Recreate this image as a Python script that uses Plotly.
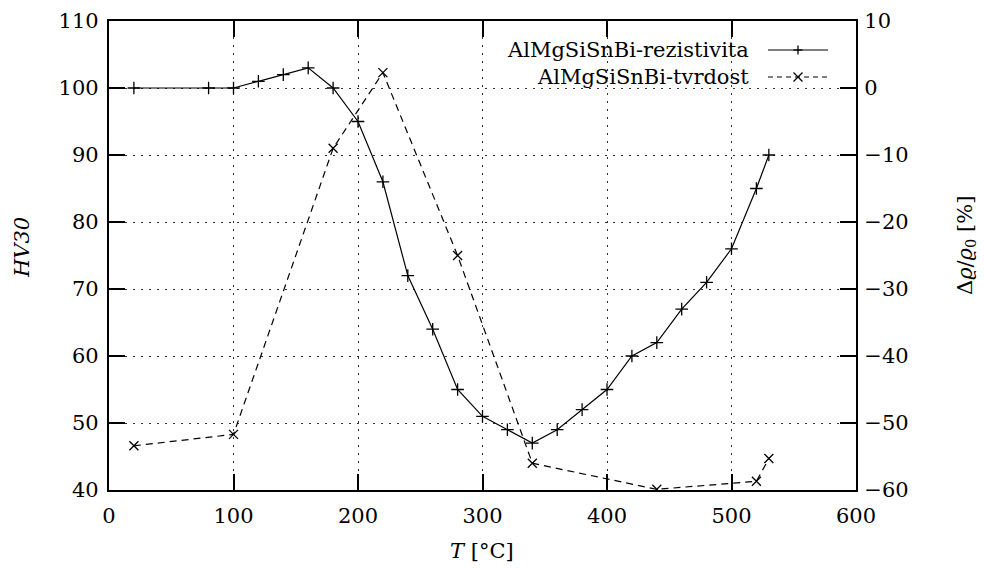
import plotly.graph_objects as go

# --- data ---
T_rez = [20, 80, 100, 120, 140, 160, 180, 200, 220, 240, 260, 280, 300,
         320, 340, 360, 380, 400, 420, 440, 460, 480, 500, 520, 530]
rezistivita = [0, 0, 0, 1, 2, 3, 0, -5, -14, -28, -36, -45, -49,
               -51, -53, -51, -48, -45, -40, -38, -33, -29, -24, -15, -10]

T_tvr = [20, 100, 180, 220, 280, 340, 440, 520, 530]
tvrdost = [46.6, 48.3, 91.0, 102.3, 75.0, 44.0, 40.1, 41.3, 44.7]

x_ticks = [0, 100, 200, 300, 400, 500, 600]
y_ticks = [40, 50, 60, 70, 80, 90, 100, 110]
y2_ticks = [-60, -50, -40, -30, -20, -10, 0, 10]

labels = ["AlMgSiSnBi-rezistivita", "AlMgSiSnBi-tvrdost"]
x_title = "<i>T</i> [°C]"
y_title = "<i>HV30</i>"
y2_title = "Δ<i>ϱ</i>/<i>ϱ</i><sub>0</sub> [%]"

FONT = "DejaVu Serif"
FS = 21
W, H = 984, 568
ML, MR, MT, MB = 109, 128, 21, 78

fig = go.Figure()
fig.add_trace(go.Scatter(
    x=T_rez, y=rezistivita, yaxis="y2", mode="lines+markers", name=labels[0],
    line=dict(color="black", width=1.2),
    marker=dict(symbol="cross-thin", size=9, line=dict(color="black", width=1.3)),
    showlegend=False))
fig.add_trace(go.Scatter(
    x=T_tvr, y=tvrdost, mode="lines+markers", name=labels[1],
    line=dict(color="black", width=1.2, dash="7px,5px"),
    marker=dict(symbol="x-thin", size=9, line=dict(color="black", width=1.3)),
    showlegend=False))

axis_common = dict(
    showline=True, linecolor="black", linewidth=2.2,
    ticks="inside", ticklen=16, tickwidth=2, tickcolor="black",
    zeroline=False, automargin=False,
)

fig.update_layout(
    width=W, height=H,
    margin=dict(l=ML, r=MR, t=MT, b=MB),
    plot_bgcolor="white", paper_bgcolor="white",
    font=dict(family=FONT, size=FS, color="black"),
    xaxis=dict(range=[0, 600], tickvals=x_ticks, mirror="ticks",
               showgrid=True, gridcolor="#333", griddash="2px,6px", gridwidth=1,
               tickfont=dict(family=FONT, size=FS, color="black"),
               ticklabelstandoff=6, **axis_common),
    yaxis=dict(range=[40, 110], tickvals=y_ticks,
               showgrid=True, gridcolor="#333", griddash="2px,6px", gridwidth=1,
               tickfont=dict(family=FONT, size=FS, color="black"),
               ticklabelstandoff=4, **axis_common),
    yaxis2=dict(range=[-60, 10], tickvals=y2_ticks, overlaying="y", side="right",
                tickfont=dict(family=FONT, size=FS, color="black"),
                showgrid=False, ticklabelstandoff=2, **axis_common),
)

pw, ph = W - ML - MR, H - MT - MB


def px(xp):
    return (xp - ML) / pw


def py(yp):
    return (H - MB - yp) / ph


# axis titles as annotations (placed like the reference)
fig.add_annotation(x=px(482), y=py(551), xref="paper", yref="paper", text=x_title,
                   showarrow=False, xanchor="center", yanchor="middle",
                   font=dict(family=FONT, size=FS, color="black"))
fig.add_annotation(x=px(22), y=py(248), xref="paper", yref="paper", text=y_title,
                   showarrow=False, xanchor="center", yanchor="middle", textangle=-90,
                   font=dict(family=FONT, size=FS, color="black"))
fig.add_annotation(x=px(966), y=py(246), xref="paper", yref="paper", text=y2_title,
                   showarrow=False, xanchor="center", yanchor="middle", textangle=-90,
                   font=dict(family=FONT, size=FS, color="black"))

# legend: opaque box hiding grid, text right-aligned, sample on the right
shapes = [dict(type="rect", xref="paper", yref="paper", x0=px(448), x1=px(838),
               y0=py(93), y1=py(22), fillcolor="white", line=dict(width=0),
               layer="between")]
rows_y = [py(50), py(77)]
sx0, sx1, sm = px(768), px(828), px(798)
dashes = ["solid", "5px,4px"]
for i, yy in enumerate(rows_y):
    fig.add_annotation(x=px(751), y=yy, xref="paper", yref="paper",
                       text=labels[i], showarrow=False, xanchor="right", yanchor="middle",
                       font=dict(family=FONT, size=FS, color="black"))
    shapes.append(dict(type="line", xref="paper", yref="paper", x0=sx0, x1=sx1,
                       y0=yy, y1=yy, line=dict(color="black", width=1.2, dash=dashes[i])))
    if i == 0:
        segs = [(0, -4.5, 0, 4.5), (-4.5, 0, 4.5, 0)]
    else:
        segs = [(-4.5, -4.5, 4.5, 4.5), (-4.5, 4.5, 4.5, -4.5)]
    for (a, b, c, d) in segs:
        shapes.append(dict(type="line", xref="paper", yref="paper",
                           xsizemode="pixel", ysizemode="pixel",
                           xanchor=sm, yanchor=yy, x0=a, y0=b, x1=c, y1=d,
                           line=dict(color="black", width=1.3)))
fig.update_layout(shapes=shapes)

fig.write_html("out.html", config={"displayModeBar": False},
               post_script="document.body.style.margin='0';")
